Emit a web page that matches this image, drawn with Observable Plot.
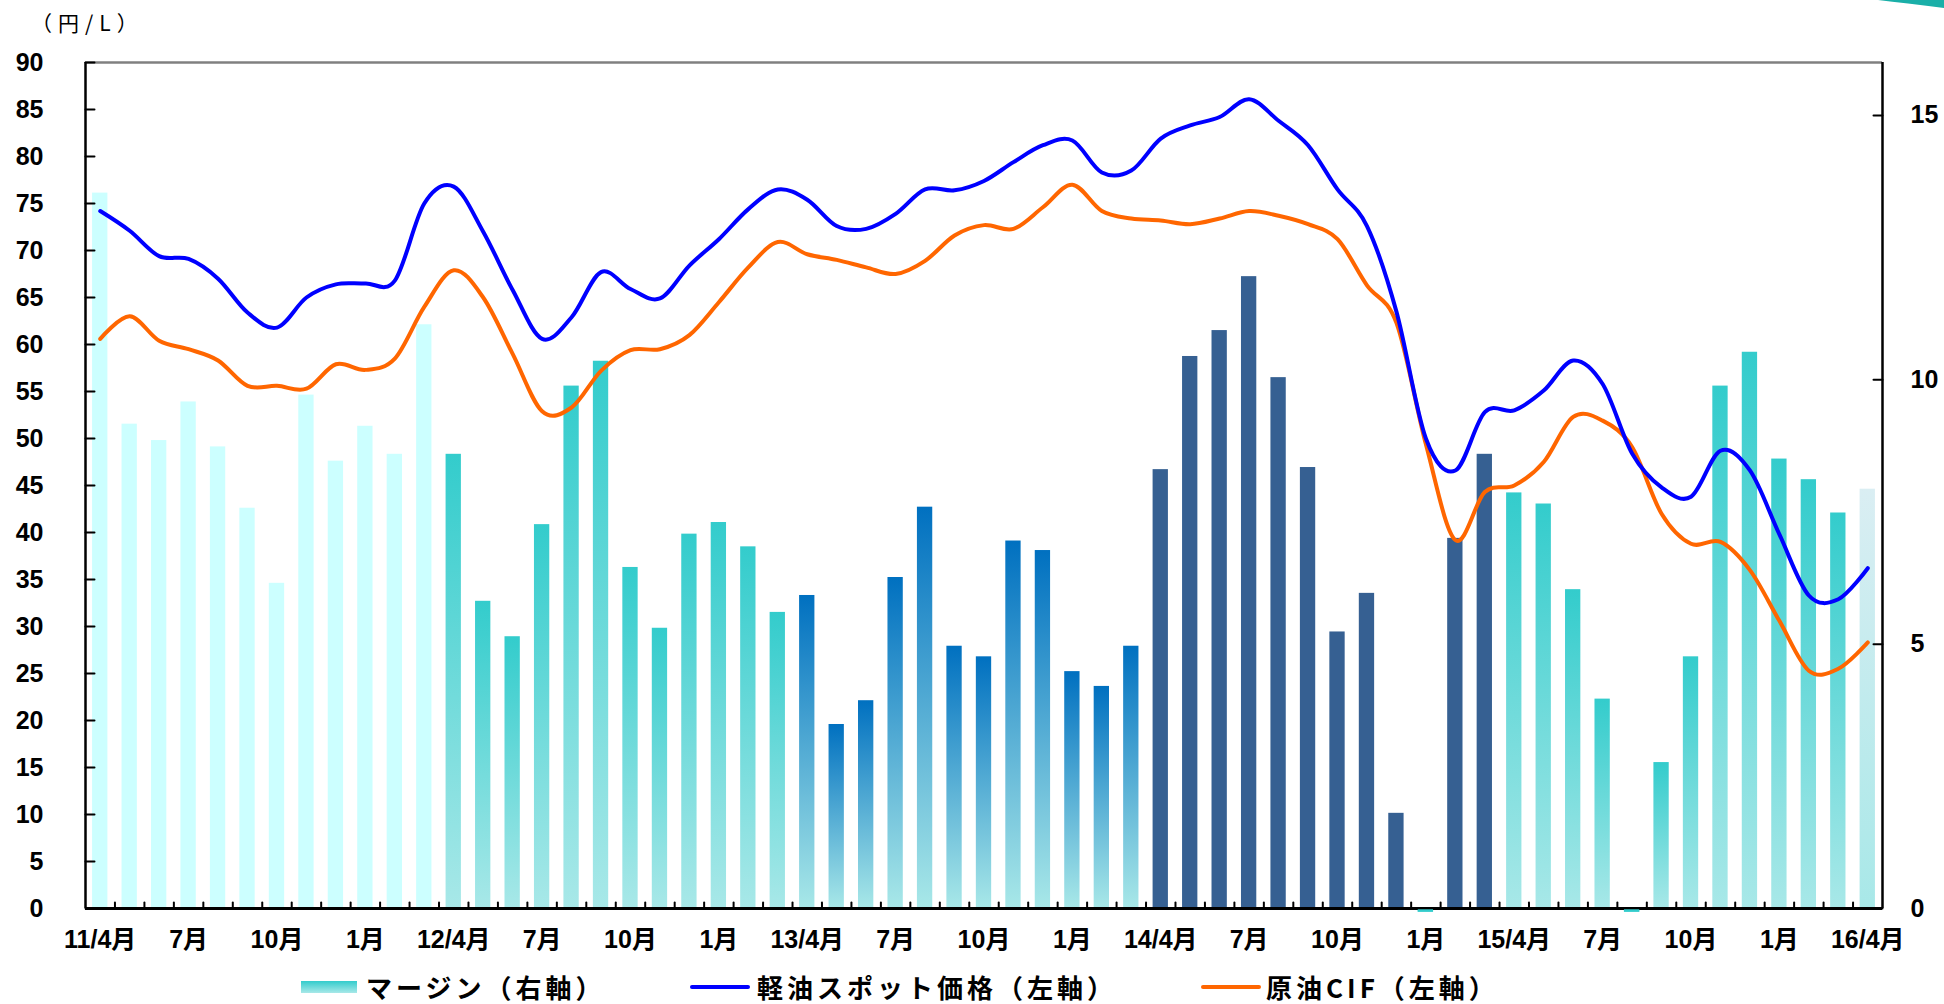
<!DOCTYPE html>
<html lang="ja">
<head>
<meta charset="utf-8">
<script src="https://cdn.jsdelivr.net/npm/d3@7"></script>
<script src="https://cdn.jsdelivr.net/npm/@observablehq/plot@0.6"></script>
<style>
  html, body { margin: 0; padding: 0; background: #fff; }
  #wrap { position: relative; width: 1944px; height: 1004px; overflow: hidden; background: #fff; }
  #chart { position: absolute; left: 0; top: 0; }
  .unit { position: absolute; left: 31px; top: 7px; font: 400 21px "Noto Sans CJK JP", sans-serif; letter-spacing: 6px; color: #000; }
  .leg { position: absolute; font: 700 26px "Noto Sans CJK JP", sans-serif; letter-spacing: 4px; line-height: 28px; color: #000; white-space: nowrap; }
  .sw { position: absolute; }
  #deco { position: absolute; left: 0; top: 0; }
</style>
</head>
<body>
<div id="wrap">
  <div id="chart"></div>
  <div class="unit">（円/L）</div>
  <div id="legend"></div>
  <svg id="deco" width="1944" height="20"><path d="M1878,0 L1944,0 L1944,8 Q1905,3 1878,0 Z" fill="#1AAFA8"/></svg>
</div>
<script>
// ---- Data ----
const months = ["11/4","11/5","11/6","11/7","11/8","11/9","11/10","11/11","11/12","12/1","12/2","12/3",
  "12/4","12/5","12/6","12/7","12/8","12/9","12/10","12/11","12/12","13/1","13/2","13/3",
  "13/4","13/5","13/6","13/7","13/8","13/9","13/10","13/11","13/12","14/1","14/2","14/3",
  "14/4","14/5","14/6","14/7","14/8","14/9","14/10","14/11","14/12","15/1","15/2","15/3",
  "15/4","15/5","15/6","15/7","15/8","15/9","15/10","15/11","15/12","16/1","16/2","16/3","16/4"];

// マージン（右軸, 円/L）
const margin = [13.53, 9.16, 8.85, 9.58, 8.73, 7.57, 6.15, 9.71, 8.46, 9.12, 8.59, 11.04,
  8.59, 5.81, 5.14, 7.26, 9.88, 10.35, 6.45, 5.30, 7.08, 7.30, 6.84, 5.60,
  5.92, 3.48, 3.93, 6.26, 7.59, 4.96, 4.76, 6.95, 6.77, 4.48, 4.20, 4.96,
  8.30, 10.44, 10.93, 11.95, 10.04, 8.34, 5.23, 5.96, 1.80, -0.07, 7.00, 8.59,
  7.86, 7.65, 6.03, 3.96, -0.07, 2.76, 4.76, 9.88, 10.52, 8.50, 8.11, 7.48, 7.93];

// 軽油スポット価格（左軸, 円/L）
const dieselSpot = [74.2, 72.1, 69.4, 69.1, 67.0, 63.4, 61.8, 65.0, 66.4, 66.5, 66.8, 75.0,
  76.8, 72.0, 65.8, 60.6, 62.9, 67.7, 65.9, 64.9, 68.4, 71.2, 74.4, 76.5,
  75.4, 72.6, 72.3, 73.9, 76.5, 76.4, 77.4, 79.4, 81.2, 81.7, 78.3, 78.5,
  81.9, 83.3, 84.2, 86.1, 83.8, 81.2, 76.5, 72.6, 63.5, 50.0, 46.6, 52.8,
  53.0, 55.1, 58.3, 55.8, 48.4, 44.8, 43.8, 48.7, 46.6, 39.8, 33.3, 32.9, 36.2];

// 原油CIF（左軸, 円/L）
const crudeCIF = [60.6, 63.0, 60.4, 59.5, 58.3, 55.6, 55.6, 55.3, 57.9, 57.3, 58.5, 64.0,
  67.9, 65.0, 59.0, 52.9, 53.3, 57.2, 59.4, 59.5, 61.0, 64.5, 68.2, 70.9,
  69.6, 69.0, 68.2, 67.5, 68.9, 71.6, 72.7, 72.3, 74.6, 77.0, 74.2, 73.4,
  73.2, 72.8, 73.4, 74.2, 73.7, 72.8, 71.2, 66.3, 62.3, 49.4, 39.2, 44.3,
  45.0, 47.5, 52.3, 51.9, 49.1, 42.0, 38.8, 39.0, 36.0, 30.6, 25.3, 25.5, 28.3];

const tickLabels = ["11/4月","7月","10月","1月","12/4月","7月","10月","1月","13/4月","7月","10月","1月",
  "14/4月","7月","10月","1月","15/4月","7月","10月","1月","16/4月"];
const leftTicks = [0,5,10,15,20,25,30,35,40,45,50,55,60,65,70,75,80,85,90];
const rightTicks = [0,5,10,15];
const leftDomain = [0, 90];
const rightDomain = [0, 16];

// ---- Build ----
const k = (leftDomain[1] - leftDomain[0]) / (rightDomain[1] - rightDomain[0]);
const fiscal = m => { const [yy, mm] = m.split("/").map(Number); return mm >= 4 ? yy : yy - 1; };
const rows = months.map((m, i) => ({
  i, month: m,
  margin: margin[i], diesel: dieselSpot[i], crude: crudeCIF[i],
  grp: margin[i] < 0 ? "neg" : "FY" + fiscal(m)
}));
const tickPositions = tickLabels.map((_, j) => months.indexOf(months[j * 3]));
const xDomain = [-0.5, months.length - 0.5];
const half = 0.26;

const tickLeft = {draw(ctx, l) { ctx.moveTo(0, 0); ctx.lineTo(l, 0); }};
const tickRight = {draw(ctx, l) { ctx.moveTo(0, 0); ctx.lineTo(-l, 0); }};
const tickUp = {draw(ctx, l) { ctx.moveTo(0, 0); ctx.lineTo(0, -l); }};

const font = '"Liberation Sans", Arial, "Noto Sans CJK JP", sans-serif';

const chart = Plot.plot({
  width: 1944,
  height: 962,
  marginTop: 62,
  marginLeft: 85,
  marginRight: 62,
  marginBottom: 54,
  style: {fontFamily: font, fontSize: "25px", fontWeight: "bold", color: "#000", background: "transparent", overflow: "visible"},
  x: {type: "linear", domain: xDomain},
  y: {domain: leftDomain},
  color: {type: "ordinal",
    domain: ["FY11","FY12","FY13","FY14","FY15","FY16","neg"],
    range: ["#CCFFFF","url(#gTeal)","url(#gBlue)","#366092","url(#gTeal)","url(#gPale)","#33CCCC"]},
  marks: [
    Plot.rectY(rows, {x1: d => d.i - half, x2: d => d.i + half, y1: 0, y2: d => d.margin * k, fill: "grp"}),
    Plot.line(rows, {x: "i", y: "crude", stroke: "#FF6600", strokeWidth: 4, curve: "cardinal", strokeLinejoin: "round"}),
    Plot.line(rows, {x: "i", y: "diesel", stroke: "#0000FF", strokeWidth: 4, curve: "cardinal", strokeLinejoin: "round"}),
    Plot.ruleY([leftDomain[1]], {stroke: "#808080", strokeWidth: 2.5}),
    Plot.ruleX([xDomain[0]], {stroke: "#000", strokeWidth: 2.5}),
    Plot.ruleX([xDomain[1]], {stroke: "#000", strokeWidth: 2.5}),
    Plot.ruleY([0], {stroke: "#000", strokeWidth: 3}),
    Plot.rectY(rows.filter(d => d.margin < 0), {x1: d => d.i - half, x2: d => d.i + half, y1: d => d.margin * k * 0.35, y2: d => d.margin * k, fill: "grp"}),
    Plot.vector(leftTicks, {y: d => d, frameAnchor: "left", length: 9, anchor: "start", shape: tickLeft, stroke: "#000", strokeWidth: 2}),
    Plot.vector(rightTicks, {y: d => d * k, frameAnchor: "right", length: 9, anchor: "start", shape: tickRight, stroke: "#000", strokeWidth: 2}),
    Plot.vector(months.slice(1), {x: d => months.indexOf(d) - 0.5, frameAnchor: "bottom", length: 6, anchor: "start", shape: tickUp, stroke: "#000", strokeWidth: 2}),
    Plot.axisY(leftTicks, {anchor: "left", tickSize: 0, tickPadding: 42, label: null}),
    Plot.axisY(rightTicks.map(v => v * k), {anchor: "right", tickSize: 0, tickPadding: 28, label: null, tickFormat: d => String(Math.round(d / k))}),
    Plot.axisX(tickPositions, {anchor: "bottom", tickSize: 0, tickPadding: 22, label: null, tickFormat: d => tickLabels[tickPositions.indexOf(d)]})
  ]
});

d3.select(chart).insert("defs", ":first-child").html(`
  <linearGradient id="gTeal" x1="0" y1="0" x2="0" y2="1">
    <stop offset="0" stop-color="#33CCCC"/><stop offset="1" stop-color="#A8E8E8"/>
  </linearGradient>
  <linearGradient id="gBlue" x1="0" y1="0" x2="0" y2="1">
    <stop offset="0" stop-color="#0070C0"/><stop offset="1" stop-color="#A8E8E8"/>
  </linearGradient>
  <linearGradient id="gPale" x1="0" y1="0" x2="0" y2="1">
    <stop offset="0" stop-color="#DAEEF3"/><stop offset="1" stop-color="#A8E8E8"/>
  </linearGradient>`);
document.getElementById("chart").appendChild(chart);

// ---- Legend ----
const legendItems = [
  {label: "マージン（右軸）", kind: "box", sx: 301, tx: 366},
  {label: "軽油スポット価格（左軸）", kind: "line", color: "#0000FF", sx: 690, tx: 757},
  {label: "原油CIF（左軸）", kind: "line", color: "#FF6600", sx: 1201, tx: 1266}
];
const legend = document.getElementById("legend");
legendItems.forEach(it => {
  const sw = document.createElement("div");
  sw.className = "sw";
  if (it.kind === "box") {
    Object.assign(sw.style, {left: it.sx + "px", top: "981px", width: "56px", height: "12px", background: "linear-gradient(#33CCCC, #A8E8E8)"});
  } else {
    Object.assign(sw.style, {left: it.sx + "px", top: "985px", width: "60px", height: "4px", borderRadius: "2px", background: it.color});
  }
  legend.appendChild(sw);
  const t = document.createElement("div");
  t.className = "leg";
  t.style.left = it.tx + "px";
  t.style.top = "973px";
  t.textContent = it.label;
  legend.appendChild(t);
});
</script>
</body>
</html>
